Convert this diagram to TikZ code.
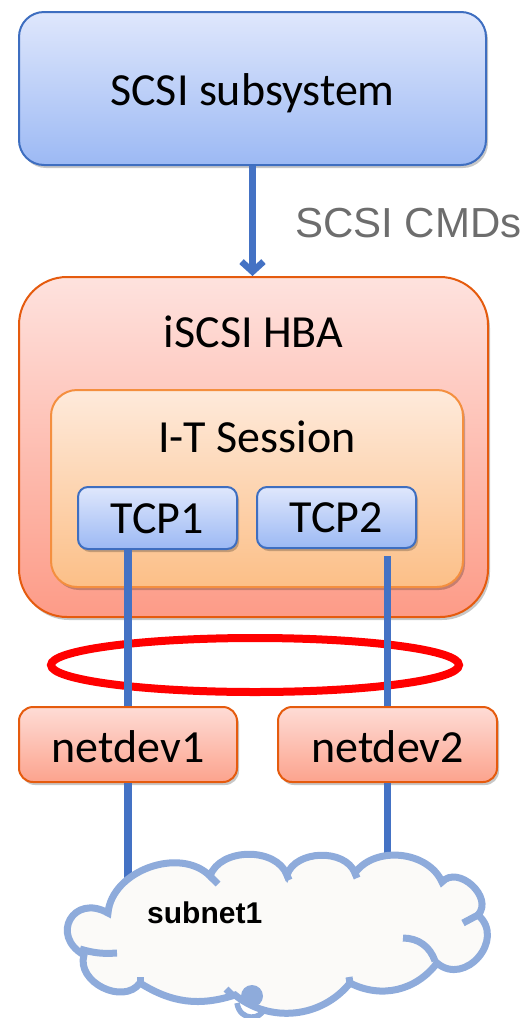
\documentclass[tikz,border=0pt]{standalone}
\usepackage{fontspec}
\setmainfont{Carlito}
\newfontfamily\arialf{Liberation Sans}
\usetikzlibrary{arrows.meta,shadows,calc}
\definecolor{bluetop}{HTML}{DFE7FC}
\definecolor{bluebot}{HTML}{9CB9F4}
\definecolor{blueline}{HTML}{3E6EC0}
\definecolor{conn}{HTML}{4472C4}
\definecolor{hbatop}{HTML}{FEE2DE}
\definecolor{hbabot}{HTML}{FD9B87}
\definecolor{orangeline}{HTML}{E55B0E}
\definecolor{sestop}{HTML}{FEEADB}
\definecolor{sesbot}{HTML}{FCBF87}
\definecolor{sesline}{HTML}{F48F3F}
\definecolor{ndtop}{HTML}{FEDCD6}
\definecolor{ndbot}{HTML}{FCA38D}
\definecolor{cloudline}{HTML}{8EABDB}
\definecolor{cloudfill}{HTML}{FBFAF8}
\definecolor{cmdgray}{HTML}{6D6D6D}
\begin{document}
\begin{tikzpicture}[x=1pt,y=-1pt,
  shad/.style={drop shadow={shadow xshift=2pt,shadow yshift=-3pt,opacity=.22,fill=black}},
  bluebox/.style={draw=blueline,line width=2pt,top color=bluetop,bottom color=bluebot,shad,inner sep=0pt,text depth=0pt},
  redbox/.style={draw=orangeline,line width=2pt,top color=hbatop,bottom color=hbabot,shad,inner sep=0pt},
  sesbox/.style={draw=sesline,line width=2pt,top color=sestop,bottom color=sesbot,shad,inner sep=0pt},
  ndbox/.style={draw=orangeline,line width=2pt,top color=ndtop,bottom color=ndbot,shad,inner sep=0pt,text depth=0pt},
  lbl/.style={font=\fontsize{46}{50}\selectfont},
  wire/.style={draw=conn,line width=7.5pt},
  cl/.style={draw=cloudline,line width=7pt}
]
\useasboundingbox (0,0) rectangle (527,1018);

\node[bluebox,lbl,rounded corners=25pt,minimum width=467pt,minimum height=153pt,text height=33pt] (top) at (252.5,88.5) {SCSI subsystem};

\node[redbox,rounded corners=48pt,minimum width=469pt,minimum height=340pt] (hba) at (253.5,447) {};
\node[lbl,anchor=base] (hbaT) at ($(hba.north)+(0,71)$) {iSCSI HBA};

\node[sesbox,rounded corners=26pt,minimum width=412pt,minimum height=197pt] (ses) at (257,488.5) {};
\node[lbl,anchor=base] (sesT) at ($(ses.north)+(0,63)$) {I-T Session};

\node[bluebox,lbl,rounded corners=10pt,minimum width=159pt,minimum height=62pt,text height=30pt] (tcp1) at (157.5,518) {TCP1};
\node[bluebox,lbl,rounded corners=10pt,minimum width=159pt,minimum height=61pt,text height=30pt] (tcp2) at (336.5,517.5) {TCP2};

\node[ndbox,lbl,rounded corners=14pt,minimum width=218pt,minimum height=75pt,text height=35pt] (nd1) at (128,744.5) {netdev1};
\node[ndbox,lbl,rounded corners=14pt,minimum width=219pt,minimum height=75pt,text height=35pt] (nd2) at (387.5,744.5) {netdev2};

% arrow
\draw[wire,line width=6.5pt,-{Straight Barb[length=10pt,width=22pt]}] (top.south) -- (top.south |- hba.north);
\node[font=\arialf\fontsize{42}{46}\selectfont,text=cmdgray,anchor=base west,inner sep=0pt] (cmd) at (295,237) {SCSI CMDs};

% ellipse
\draw[red,line width=8pt] (255,665) ellipse [x radius=204, y radius=27];

% wires
\draw[wire] (nd1.north |- tcp1.south) -- (nd1.north);
\draw[wire] ($(nd2.north |- tcp2.south)+(0,7)$) -- (nd2.north);

\coordinate (cloudc) at (278,935);
\draw[wire] (nd1.south) -- (nd1.south |- cloudc);
\draw[wire] (nd2.south) -- (nd2.south |- cloudc);

% cloud
\draw[cl,fill=cloudfill] (108,913) to[bend left=65] (210,876) to[bend left=70] (287,875) to[bend left=70] (355,873) to[bend left=60] (442,882)
  to[bend left=90,looseness=1.25] (478,915) to[bend left=90,looseness=1.5] (437,963) to[bend left=40] (350,983)
  to[bend left=45] (235,995) to[bend left=25] (140,983) to[bend left=80,looseness=1.15] (84,955) to[bend left=90,looseness=2.1] (108,913) -- cycle;
\draw[cl] (80,949) to[bend right=10] (117,953);
\draw[cl] (403,938) to[bend left=35] (435,961);
\draw[cl] (210,876) -- (218,884);
\draw[cl] (287,875) -- (289,880);
\draw[cl] (355,873) -- (357,878);
\draw[cl] (478,915) -- (463,923);
\draw[cl] (350,983) -- (349,977);
\draw[cl] (140,983) -- (140,977);
\draw[cl] (232,995) -- (226,989);
\fill[cloudline] (252,996) circle [radius=11];
\draw[cl,line width=5.5pt] (237,1003) .. controls (240,1022) and (262,1020) .. (264,1008);
\node[font=\arialf\bfseries\fontsize{30}{34}\selectfont,anchor=base west,inner sep=0pt] (sub) at (147,923) {subnet1};
\end{tikzpicture}
\end{document}
